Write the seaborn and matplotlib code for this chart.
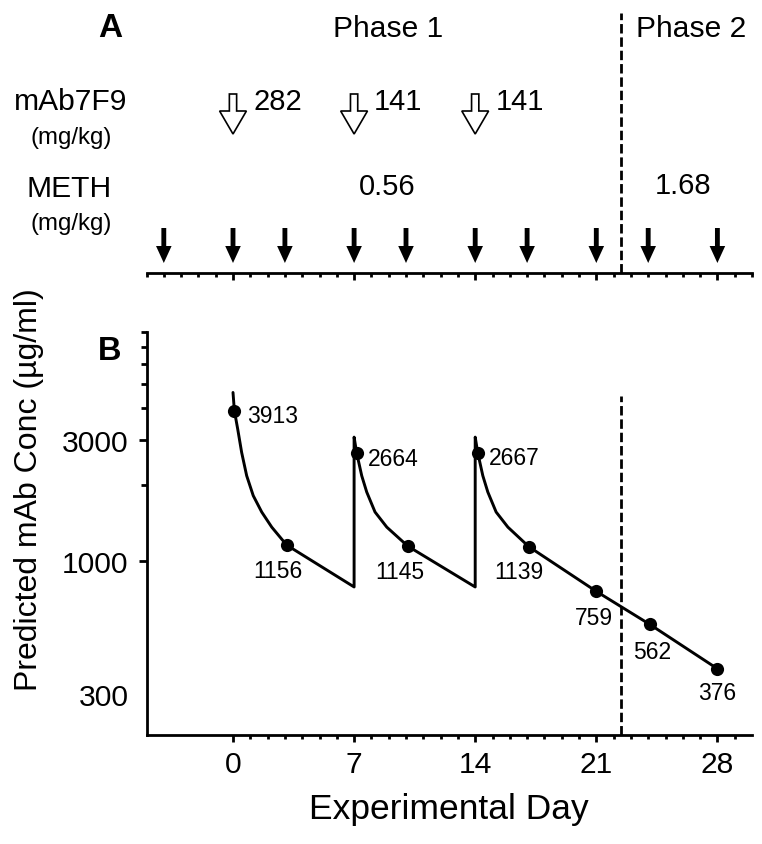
import numpy as np
import pandas as pd
import matplotlib
matplotlib.use("Agg")
import matplotlib.pyplot as plt
from matplotlib.patches import FancyArrow
from matplotlib.ticker import NullFormatter, FixedLocator
import seaborn as sns

sns.set_theme(style="ticks")
plt.rcParams['font.family'] = ['Liberation Sans', 'DejaVu Sans']
plt.rcParams.update({'text.color': 'black', 'axes.labelcolor': 'black',
                     'xtick.color': 'black', 'ytick.color': 'black',
                     'axes.edgecolor': 'black'})

# ---- data ----
meth_days = [-4, 0, 3, 7, 10, 14, 17, 21, 24, 28]
mab_days = [0, 7, 14]
mab_doses = ["282", "141", "141"]
meth_dose_p1 = "0.56"
meth_dose_p2 = "1.68"
phase_switch_day = 22.4

curve_day = [0.0, 0.08, 0.27, 0.50, 0.79, 1.17, 1.66, 2.24, 3.1, 7.0,
             7.0, 7.15, 7.44, 7.73, 8.21, 8.89, 10.1, 14.0,
             14.0, 14.15, 14.44, 14.73, 15.21, 15.89, 17.1, 21.0, 24.1, 28.0]
curve_conc = [4620, 3913, 3320, 2680, 2170, 1810, 1560, 1360, 1156, 790,
              3080, 2664, 2170, 1870, 1560, 1360, 1145, 790,
              3080, 2667, 2170, 1870, 1560, 1360, 1139, 759, 562, 376]

sample_day = [0.08, 3.1, 7.15, 10.1, 14.15, 17.1, 21.0, 24.1, 28.0]
sample_conc = [3913, 1156, 2664, 1145, 2667, 1139, 759, 562, 376]

x_major = [0, 7, 14, 21, 28]
y_major = [300, 1000, 3000]
y_minor = [2000, 4000, 5000, 6000, 7000, 8000]

# label placement (pixel offsets from each dot)
label_offsets = [(13, -5, 'left'), (-9, -25, 'center'), (11, -5, 'left'),
                 (-8, -25, 'center'), (11, -5, 'left'), (-10, -25, 'center'),
                 (-2, -26, 'center'), (2, -27, 'center'), (0, -24, 'center')]

W, H = 762, 845
fig = plt.figure(figsize=(W / 100, H / 100), dpi=100)

x_lo, x_hi = -5, 30
ax_l, ax_r = 146.5, 752
LW = 2.0

# ---------------- panel B ----------------
b_top, b_bot = 333, 736
axB = fig.add_axes([ax_l / W, (H - b_bot) / H, (ax_r - ax_l) / W, (b_bot - b_top) / H])
curve_df = pd.DataFrame({'day': curve_day, 'conc': curve_conc})
sample_df = pd.DataFrame({'day': sample_day, 'conc': sample_conc})

axB.set_yscale('log')
sns.lineplot(data=curve_df, x='day', y='conc', sort=False, estimator=None,
             color='black', lw=2.1, ax=axB)
sns.scatterplot(data=sample_df, x='day', y='conc', color='black', s=90,
                edgecolor='black', linewidth=0, ax=axB, zorder=5)

for d, c, (dx, dy, ha) in zip(sample_day, sample_conc, label_offsets):
    axB.annotate(str(c), (d, c), xytext=(dx, dy), textcoords='offset pixels',
                 ha=ha, va='center', fontsize=16.5, color='black')

axB.set_xlim(x_lo, x_hi)
axB.set_ylim(206, 8000)
axB.xaxis.set_major_locator(FixedLocator(x_major))
axB.xaxis.set_minor_locator(FixedLocator([d for d in range(1, 30) if d not in x_major]))
axB.set_xticklabels([str(v) for v in x_major])
axB.yaxis.set_major_locator(FixedLocator(y_major))
axB.yaxis.set_minor_locator(FixedLocator(y_minor))
axB.set_yticklabels([str(v) for v in y_major])
axB.yaxis.set_minor_formatter(NullFormatter())
axB.yaxis.get_major_ticks()[0].tick1line.set_visible(False)

axB.tick_params(axis='x', which='major', length=5, width=LW, labelsize=21.6, pad=6, direction='out')
axB.tick_params(axis='x', which='minor', length=3, width=LW, direction='out')
axB.tick_params(axis='y', which='major', length=5.8, width=LW, labelsize=21.6, pad=7, direction='out')
axB.tick_params(axis='y', which='minor', length=4.3, width=LW, direction='out')
sns.despine(ax=axB)
for s in ['left', 'bottom']:
    axB.spines[s].set_linewidth(LW)
axB.set_xlabel('')
axB.set_ylabel('')

dash = (0, (3.4, 1.4))
axB.axvline(phase_switch_day, ymin=0, ymax=(b_bot - 397) / (b_bot - b_top),
            color='black', lw=LW, linestyle=dash)

fig.text(449 / W, 1 - 810 / H, 'Experimental Day', ha='center', va='center', fontsize=25.5)
fig.text(29 / W, 1 - 490 / H, 'Predicted mAb Conc (\u00b5g/ml)', rotation=90,
         ha='center', va='center', fontsize=23)
fig.text(110 / W, 1 - 360 / H, 'B', ha='center', va='baseline', fontsize=23.5, fontweight='bold')

# ---------------- panel A ----------------
a_bot = 274
axA = fig.add_axes([ax_l / W, (H - a_bot) / H, (ax_r - ax_l) / W, a_bot / H])
axA.set_xlim(x_lo, x_hi)
axA.set_ylim(a_bot, 0)  # y in figure pixels from top
for s in ['left', 'right', 'top']:
    axA.spines[s].set_visible(False)
axA.spines['bottom'].set_linewidth(LW)
axA.set_facecolor('none')
axA.yaxis.set_visible(False)
axA.xaxis.set_major_locator(FixedLocator(x_major))
axA.xaxis.set_minor_locator(FixedLocator([d for d in range(x_lo, x_hi + 1) if d not in x_major]))
axA.xaxis.set_major_formatter(NullFormatter())
axA.tick_params(axis='x', which='major', length=5, width=LW, direction='out')
axA.tick_params(axis='x', which='minor', length=3, width=LW, direction='out')

# filled METH arrows
for d in meth_days:
    axA.add_patch(FancyArrow(d, 229, 0, 35, width=0.28, head_width=0.9,
                             head_length=17, length_includes_head=True,
                             color='black', lw=0))
# open mAb arrows
for d, lab in zip(mab_days, mab_doses):
    axA.add_patch(FancyArrow(d, 95, 0, 40, width=0.42, head_width=1.55,
                             head_length=23, length_includes_head=True,
                             facecolor='white', edgecolor='black', lw=1.2))
    axA.text(d + 1.16, 110, lab, ha='left', va='baseline', fontsize=21)

axA.text(8.9, 195, meth_dose_p1, ha='center', va='baseline', fontsize=21)
axA.text(26.0, 194, meth_dose_p2, ha='center', va='baseline', fontsize=21)
axA.text(8.96, 37, 'Phase 1', ha='center', va='baseline', fontsize=21.6)
axA.text(26.5, 37, 'Phase 2', ha='center', va='baseline', fontsize=21.6)
axA.axvline(phase_switch_day, ymin=0, ymax=(a_bot - 14) / a_bot,
            color='black', lw=LW, linestyle=dash)

fig.text(110 / W, 1 - 37 / H, 'A', ha='center', va='baseline', fontsize=24, fontweight='bold')
fig.text(71 / W, 1 - 110 / H, 'mAb7F9', ha='center', va='baseline', fontsize=21.6)
fig.text(71 / W, 1 - 144 / H, '(mg/kg)', ha='center', va='baseline', fontsize=17.3)
fig.text(69 / W, 1 - 197 / H, 'METH', ha='center', va='baseline', fontsize=21.6)
fig.text(71 / W, 1 - 230 / H, '(mg/kg)', ha='center', va='baseline', fontsize=17.3)

fig.savefig('out.png', dpi=100, facecolor='white')
